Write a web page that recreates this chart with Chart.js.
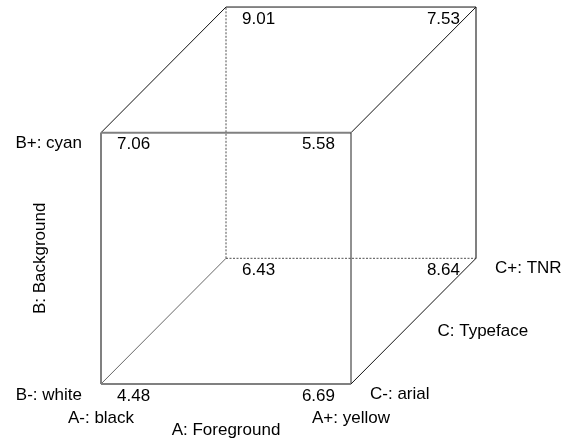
<!DOCTYPE html>
<html>
<head>
<meta charset="utf-8">
<script src="https://cdn.jsdelivr.net/npm/chart.js@4/dist/chart.umd.min.js"></script>
<style>
  html, body { margin: 0; padding: 0; background: #fff; }
  #wrap { width: 566px; height: 441px; position: relative; }
</style>
</head>
<body>
<div id="wrap"><canvas id="cube"></canvas></div>
<script>
// 2^3 design: run order (1), a, b, ab, c, ac, bc, abc
const levelA = [0, 1, 0, 1, 0, 1, 0, 1];
const levelB = [0, 0, 1, 1, 0, 0, 1, 1];
const levelC = [0, 0, 0, 0, 1, 1, 1, 1];
const responses = [4.48, 6.69, 7.06, 5.58, 6.43, 8.64, 9.01, 7.53];

const factorNames = ["A: Foreground", "B: Background", "C: Typeface"];
const lowLabels = ["A-: black", "B-: white", "C-: arial"];
const highLabels = ["A+: yellow", "B+: cyan", "C+: TNR"];

const DEPTH = 0.5; // oblique projection of factor C
const FONT = '17px "Liberation Sans", Arial, sans-serif';

function proj(i) {
    return { x: levelA[i] + DEPTH * levelC[i], y: levelB[i] + DEPTH * levelC[i] };
}

// edges join runs that differ in exactly one factor
const edges = [];
for (let i = 0; i < 8; i++) {
    for (let j = i + 1; j < 8; j++) {
        const d = (levelA[i] != levelA[j]) + (levelB[i] != levelB[j]) + (levelC[i] != levelC[j]);
        if (d == 1) edges.push([i, j]);
    }
}

function edgeStyle(i, j) {
    const front = levelC[i] == 0 && levelC[j] == 0;
    const hidden = (levelC[i] == 1 && levelC[j] == 1) &&
        ((levelA[i] == 0 && levelA[j] == 0) || (levelB[i] == 0 && levelB[j] == 0));
    if (hidden) return { borderColor: '#222', borderWidth: 0.8, borderDash: [2, 1.5] };
    if (front) {
        if (levelA[i] == 1 && levelA[j] == 1) return { borderColor: '#222', borderWidth: 1, borderDash: [] };
        return { borderColor: '#808080', borderWidth: 2, borderDash: [] };
    }
    // back right vertical
    if (levelC[i] == 1 && levelC[j] == 1 && levelA[i] == 1 && levelA[j] == 1)
        return { borderColor: '#808080', borderWidth: 2, borderDash: [] };
    // bottom-left depth edge
    if (levelA[i] == 0 && levelA[j] == 0 && levelB[i] == 0 && levelB[j] == 0)
        return { borderColor: '#666', borderWidth: 1, borderDash: [] };
    return { borderColor: '#111', borderWidth: 1, borderDash: [] };
}

const datasets = edges.map(([i, j]) => Object.assign({
    data: [proj(i), proj(j)],
    showLine: true,
    pointRadius: 0,
    fill: false
}, edgeStyle(i, j)));

const labelPlugin = {
    id: 'cubeLabels',
    afterDatasetsDraw(chart) {
        const ctx = chart.ctx;
        const sx = chart.scales.x, sy = chart.scales.y;
        const px = (i) => sx.getPixelForValue(proj(i).x);
        const py = (i) => sy.getPixelForValue(proj(i).y);
        ctx.save();
        ctx.font = FONT;
        ctx.fillStyle = '#000';
        ctx.textBaseline = 'middle';

        // response at each corner
        for (let i = 0; i < 8; i++) {
            ctx.textAlign = levelA[i] == 0 ? 'left' : 'right';
            const dx = levelA[i] == 0 ? 16 : -16;
            ctx.fillText(responses[i].toFixed(2), px(i) + dx, py(i) + 12);
        }

        // factor A along the front bottom edge
        ctx.textAlign = 'center';
        ctx.fillText(lowLabels[0], px(0), py(0) + 34);
        ctx.fillText(highLabels[0], px(1), py(1) + 34);
        ctx.fillText(factorNames[0], (px(0) + px(1)) / 2, py(0) + 46);

        // factor B along the front left edge
        ctx.textAlign = 'right';
        ctx.fillText(lowLabels[1], px(0) - 19, py(0) + 11);
        ctx.fillText(highLabels[1], px(2) - 19, py(2) + 11);
        ctx.save();
        ctx.translate(px(0) - 61, (py(0) + py(2)) / 2);
        ctx.rotate(-Math.PI / 2);
        ctx.textAlign = 'center';
        ctx.fillText(factorNames[1], 0, 0);
        ctx.restore();

        // factor C along the bottom right depth edge
        ctx.textAlign = 'left';
        ctx.fillText(lowLabels[2], px(1) + 19, py(1) + 10);
        ctx.fillText(highLabels[2], px(5) + 19, py(5) + 10);
        ctx.fillText(factorNames[2], (px(1) + px(5)) / 2 + 24, (py(1) + py(5)) / 2 + 10);
        ctx.restore();
    }
};

new Chart(document.getElementById('cube'), {
    type: 'scatter',
    data: { datasets: datasets },
    options: {
        responsive: true,
        maintainAspectRatio: false,
        animation: false,
        layout: { padding: 0 },
        plugins: { legend: { display: false }, tooltip: { enabled: false } },
        scales: {
            x: { display: false, min: -0.404, max: 1.86 },
            y: { display: false, min: -0.227, max: 1.528 }
        }
    },
    plugins: [labelPlugin]
});
</script>
</body>
</html>
